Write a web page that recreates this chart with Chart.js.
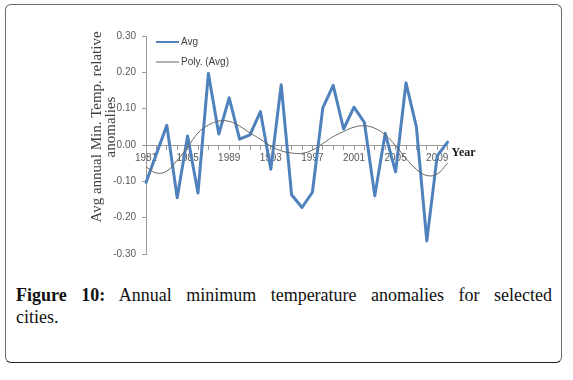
<!DOCTYPE html>
<html><head><meta charset="utf-8">
<script src="https://cdn.jsdelivr.net/npm/chart.js@4.4.0/dist/chart.umd.min.js"></script>
<style>
html,body{margin:0;padding:0;background:#fff;width:573px;height:380px;overflow:hidden;}
#frame{position:absolute;left:5px;top:4px;width:557px;height:359px;box-sizing:border-box;border:1px solid #6b6b6b;border-bottom-color:#222;border-radius:6px;}
#c{position:absolute;left:0;top:0;}
.cap{position:absolute;left:16px;width:536px;font-family:"Liberation Serif","DejaVu Serif",serif;font-size:18px;color:#111;line-height:22px;}
#cap1{top:284px;text-align:justify;text-align-last:justify;}
#cap2{top:306px;}
</style></head>
<body>
<div id="frame"></div>
<canvas id="c" width="573" height="275"></canvas>
<div class="cap" id="cap1"><b>Figure 10:</b> Annual minimum temperature anomalies for selected</div>
<div class="cap" id="cap2">cities.</div>
<script>
const years = ['1981','1982','1983','1984','1985','1986','1987','1988','1989','1990',
               '1991','1992','1993','1994','1995','1996','1997','1998','1999','2000',
               '2001','2002','2003','2004','2005','2006','2007','2008','2009','2010'];
const avgValues = [-0.103,-0.025,0.054,-0.145,0.025,-0.132,0.197,0.030,0.130,0.016,
                   0.028,0.092,-0.067,0.166,-0.137,-0.172,-0.130,0.102,0.164,0.044,
                   0.104,0.062,-0.140,0.032,-0.074,0.171,0.050,-0.264,-0.030,0.008];
const polyValues = [-0.060,-0.077,-0.072,-0.042,-0.006,0.033,0.055,0.066,0.065,0.052,
                    0.033,0.016,-0.003,-0.016,-0.022,-0.023,-0.014,0.004,0.023,0.037,
                    0.049,0.053,0.046,0.028,-0.002,-0.037,-0.067,-0.084,-0.080,-0.050];
const seriesNames = ['Avg','Poly. (Avg)'];
const xTickLabels = ['1981','1985','1989','1993','1997','2001','2005','2009'];
const yTickValues = [-0.3,-0.2,-0.1,0,0.1,0.2,0.3];
const yAxisTitle = ['Avg annual Min. Temp. relative','anomalies'];
const xAxisTitle = 'Year';

const overlay = {
  id:'overlay',
  afterDraw(chart){
    const {ctx, chartArea:a, scales:{y}} = chart;
    ctx.save();
    const lx = a.left + 10, ly0 = a.top + 6, step = 20;
    chart.data.datasets.forEach((ds,i)=>{
      const yy = ly0 + i*step;
      ctx.strokeStyle = ds.borderColor; ctx.lineWidth = ds.legendWidth;
      ctx.beginPath(); ctx.moveTo(lx, yy); ctx.lineTo(lx+23, yy); ctx.stroke();
      ctx.fillStyle = '#404040'; ctx.font = '10px "Liberation Sans"';
      ctx.textBaseline = 'middle'; ctx.textAlign = 'left';
      ctx.fillText(ds.label, lx+25, yy);
    });
    ctx.font = 'bold 12px "Liberation Serif"'; ctx.fillStyle = '#1a1a1a';
    ctx.textBaseline = 'middle'; ctx.textAlign = 'left';
    ctx.fillText(xAxisTitle, a.right + 4, y.getPixelForValue(0) + 8);
    ctx.translate(97, 127); ctx.rotate(-Math.PI/2);
    ctx.font = '15px "Liberation Serif"'; ctx.fillStyle = '#404040';
    ctx.textAlign = 'center'; ctx.textBaseline = 'middle';
    ctx.fillText(yAxisTitle[0], 0, 0);
    ctx.fillText(yAxisTitle[1], 0, 14);
    ctx.restore();
  }
};

new Chart(document.getElementById('c'), {
  type:'line',
  data:{
    labels: years,
    datasets:[
      {label:seriesNames[0], data:avgValues, borderColor:'#4F81BD', borderWidth:3, pointRadius:0,
       tension:0, borderJoinStyle:'round', borderCapStyle:'round', legendWidth:2, order:1},
      {label:seriesNames[1], data:polyValues, borderColor:'#666666', borderWidth:1, pointRadius:0,
       tension:0.4, legendWidth:1, order:0}
    ]
  },
  options:{
    responsive:false, animation:false, devicePixelRatio:1,
    layout:{padding:{left:86, right:125.4, top:36, bottom:21}},
    plugins:{legend:{display:false}, tooltip:{enabled:false}},
    scales:{
      x:{
        type:'category', position:{y:0}, offset:false,
        grid:{drawOnChartArea:false, drawTicks:true, tickLength:4, color:'#9a9a9a'},
        border:{color:'#9a9a9a', width:1},
        ticks:{autoSkip:false, maxRotation:0, minRotation:0, padding:3, color:'#595959',
               font:{family:'Liberation Sans', size:10},
               callback(v){ const l = this.getLabelForValue(v); return xTickLabels.includes(l) ? l : ''; }},
        afterFit(s){ s.height = 0; }
      },
      y:{
        min:-0.3, max:0.3,
        afterBuildTicks(s){ s.ticks = yTickValues.map(v=>({value:v})); },
        grid:{drawOnChartArea:false, tickLength:4, color:'#9a9a9a'},
        border:{color:'#9a9a9a', width:1},
        ticks:{padding:6, color:'#595959', font:{family:'Liberation Sans', size:10},
               callback:v => (Math.abs(v)<1e-9 ? 0 : v).toFixed(2)},
        afterFit(s){ s.width = 60; }
      }
    }
  },
  plugins:[overlay]
});
</script>
</body></html>
